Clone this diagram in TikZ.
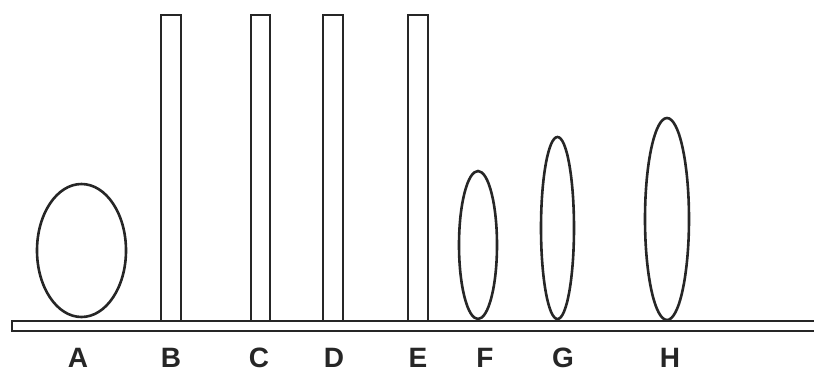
\documentclass[tikz,border=0pt]{standalone}
\usepackage{fontspec}
\setmainfont{Liberation Sans}
\begin{document}
\begin{tikzpicture}[x=1pt,y=-1pt,
  outl/.style={draw=black!85,line width=2.6pt},
  lbl/.style={anchor=base,inner sep=0pt,font=\fontsize{28}{29}\selectfont\bfseries,text=black!85}]
\useasboundingbox (0,0) rectangle (814,373);
% ground bar
\draw[outl] (820,321) -- (12,321) -- (12,331) -- (820,331);
% egg A
\draw[outl] (81.5,250.5) ellipse [x radius=44.5, y radius=66.5];
% rods
\draw[outl] (161,321) rectangle (181,15);
\draw[outl] (251,321) rectangle (270,15);
\draw[outl] (323,321) rectangle (343,15);
\draw[outl] (408,321) rectangle (428,15);
% ellipses
\draw[outl] (478,245) ellipse [x radius=19, y radius=74];
\draw[outl] (557.5,228) ellipse [x radius=16.5, y radius=91];
\draw[outl] (667,219) ellipse [x radius=22, y radius=101];
% labels
\node[lbl] (la) at (78,367) {A};
\node[lbl] (lb) at (171,367) {B};
\node[lbl] (lc) at (259,367) {C};
\node[lbl] (ld) at (334,367) {D};
\node[lbl] (le) at (418,367) {E};
\node[lbl] (lf) at (485,367) {F};
\node[lbl] (lg) at (563,367) {G};
\node[lbl] (lh) at (670,367) {H};
\end{tikzpicture}
\end{document}
